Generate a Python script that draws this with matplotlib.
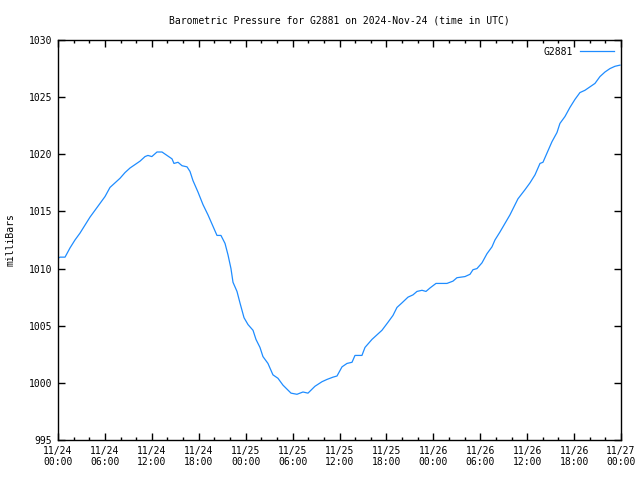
import matplotlib
matplotlib.use("Agg")
import matplotlib.pyplot as plt
from matplotlib.ticker import MultipleLocator

# hours since 2024-11-24 00:00 UTC and pressure (mbar)
hours = [0.0, 0.26, 0.9, 1.53, 2.17, 2.81, 3.45, 4.09, 4.73, 5.37, 6.01, 6.65,
         7.29, 7.93, 8.57, 9.21, 9.85, 10.49, 11.13, 11.5, 12.0, 12.66, 13.3,
         13.94, 14.58, 14.83, 15.35, 15.86, 16.5, 16.88, 17.26, 17.9, 18.54,
         19.18, 19.82, 20.33, 20.84, 21.36, 21.74, 22.12, 22.38, 22.89, 23.27,
         23.79, 24.3, 24.94, 25.32, 25.83, 26.21, 26.85, 27.49, 28.13, 28.77,
         29.8, 30.56, 31.33, 31.97, 32.86, 33.76, 34.4, 35.17, 35.68, 36.32,
         36.96, 37.6, 37.98, 38.87, 39.26, 40.15, 40.79, 41.43, 42.2, 42.84,
         43.35, 43.99, 44.76, 45.4, 45.91, 46.55, 47.06, 47.57, 48.34, 49.74,
         50.51, 51.02, 52.05, 52.69, 53.07, 53.58, 54.22, 54.86, 55.5, 55.88,
         56.52, 57.8, 58.82, 59.72, 60.36, 61.0, 61.64, 62.02, 62.53, 63.17,
         63.81, 64.19, 64.83, 65.47, 66.11, 66.75, 67.39, 68.03, 68.67, 69.31,
         69.95, 70.59, 71.23, 71.87]
pressure = [1010.9, 1011.0, 1011.0, 1011.8, 1012.5, 1013.1, 1013.8, 1014.5,
            1015.1, 1015.7, 1016.3, 1017.1, 1017.5, 1017.9, 1018.4, 1018.8,
            1019.1, 1019.4, 1019.8, 1019.9, 1019.8, 1020.2, 1020.2, 1019.9,
            1019.6, 1019.2, 1019.3, 1019.0, 1018.9, 1018.5, 1017.7, 1016.7,
            1015.6, 1014.7, 1013.7, 1012.9, 1012.9, 1012.2, 1011.2, 1010.0,
            1008.8, 1008.0, 1007.0, 1005.7, 1005.1, 1004.6, 1003.8, 1003.1,
            1002.3, 1001.7, 1000.7, 1000.4, 999.8, 999.1, 999.0, 999.2, 999.1,
            999.7, 1000.1, 1000.3, 1000.5, 1000.6, 1001.4, 1001.7, 1001.8,
            1002.4, 1002.4, 1003.1, 1003.8, 1004.2, 1004.6, 1005.3, 1005.9,
            1006.6, 1007.0, 1007.5, 1007.7, 1008.0, 1008.1, 1008.0, 1008.3,
            1008.7, 1008.7, 1008.9, 1009.2, 1009.3, 1009.5, 1009.9, 1010.0,
            1010.5, 1011.3, 1011.9, 1012.5, 1013.2, 1014.7, 1016.1, 1016.9,
            1017.5, 1018.2, 1019.2, 1019.3, 1020.1, 1021.1, 1021.9, 1022.7,
            1023.3, 1024.1, 1024.8, 1025.4, 1025.6, 1025.9, 1026.2, 1026.8,
            1027.2, 1027.5, 1027.7, 1027.8]

tick_hours = [0, 6, 12, 18, 24, 30, 36, 42, 48, 54, 60, 66, 72]
tick_labels = ["11/24\n00:00", "11/24\n06:00", "11/24\n12:00", "11/24\n18:00",
               "11/25\n00:00", "11/25\n06:00", "11/25\n12:00", "11/25\n18:00",
               "11/26\n00:00", "11/26\n06:00", "11/26\n12:00", "11/26\n18:00",
               "11/27\n00:00"]

plt.rcParams['font.family'] = ['DejaVu Sans Mono']
plt.rcParams['font.size'] = 7

fig = plt.figure(figsize=(6.4, 4.8), dpi=100)
ax = fig.add_axes([58 / 640, 40 / 480, 563 / 640, 400 / 480])

ax.plot(hours, pressure, color='#1e8cff', linewidth=0.9, label='G2881')

ax.set_xlim(0, 72)
ax.set_ylim(995, 1030)
ax.set_xticks(tick_hours)
ax.set_xticklabels(tick_labels)
ax.xaxis.set_minor_locator(MultipleLocator(2))
ax.yaxis.set_major_locator(MultipleLocator(5))

ax.tick_params(which='both', direction='in', top=True, right=True, width=1)
ax.tick_params(which='major', length=5, pad=4)
ax.tick_params(which='minor', length=2.5)
for s in ax.spines.values():
    s.set_linewidth(1)

ax.set_title("Barometric Pressure for G2881 on 2024-Nov-24 (time in UTC)",
             fontsize=7, pad=12)
ax.set_ylabel("milliBars", labelpad=10)
ax.legend(loc='upper right', frameon=False, markerfirst=False,
          handlelength=3.5, borderaxespad=0.3, handletextpad=0.8)

fig.savefig("out.png", dpi=100)
plt.close(fig)
